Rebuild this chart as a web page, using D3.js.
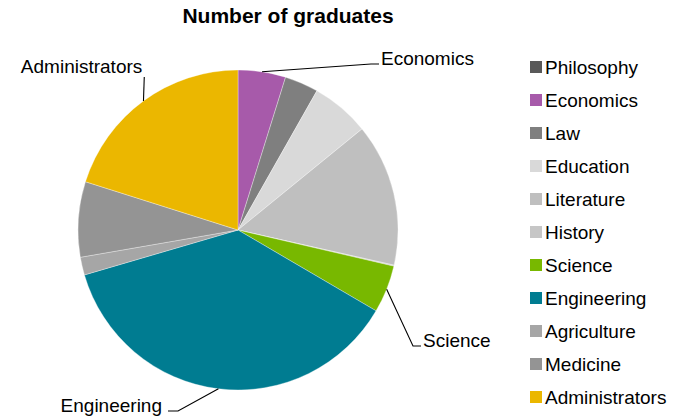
<!DOCTYPE html>
<html>
<head>
<meta charset="utf-8">
<script src="https://cdn.jsdelivr.net/npm/d3@7"></script>
<style>
  html, body { margin: 0; padding: 0; background: #fff; }
  svg { display: block; font-family: "Liberation Sans", Arial, sans-serif; }
</style>
</head>
<body>
<svg id="chart" width="685" height="420"></svg>
<script>
// Graduates per field of study
const categories = ["Philosophy", "Economics", "Law", "Education", "Literature", "History",
                    "Science", "Engineering", "Agriculture", "Medicine", "Administrators"];
const graduates = [0, 48, 34, 59, 144, 1, 48, 370, 18, 76, 201];
const colors = ["#595959", "#a75aaa", "#7f7f7f", "#d9d9d9", "#bfbfbf", "#c6c6c6",
                "#78b800", "#007c91", "#a6a6a6", "#949494", "#ebb700"];
const calloutNames = ["Economics", "Science", "Engineering", "Administrators"];

const svg = d3.select("#chart");
const cx = 238, cy = 230, radius = 160;

// Leader-line layout for the callout labels: elbow point and horizontal tail relative to the pie centre
const calloutLayout = {
  Economics:      { elbow: [133, -166], tail: 8,  anchor: "start" },
  Science:        { elbow: [175, 116],  tail: 8,  anchor: "start" },
  Engineering:    { elbow: [-60, 181],  tail: -10, anchor: "end" },
  Administrators: { elbow: [-94, -153], tail: 0,  anchor: "end" }
};

svg.append("text")
  .attr("x", 288).attr("y", 23)
  .attr("text-anchor", "middle")
  .attr("font-size", 21).attr("font-weight", "bold")
  .attr("fill", "#000")
  .text("Number of graduates");

const data = categories.map((c, i) => ({ name: c, value: graduates[i], color: colors[i] }));
const pie = d3.pie().sort(null).value(d => d.value).startAngle(0).endAngle(2 * Math.PI);
const arcs = pie(data);
const arc = d3.arc().innerRadius(0).outerRadius(radius);

const g = svg.append("g").attr("transform", `translate(${cx},${cy})`);
g.selectAll("path.slice")
  .data(arcs.filter(a => a.data.value > 0))
  .join("path")
  .attr("class", "slice")
  .attr("d", arc)
  .attr("fill", d => d.data.color)
  .attr("stroke", "#ffffff")
  .attr("stroke-opacity", 0.55)
  .attr("stroke-width", 0.6);

// Callout labels with leader lines from the middle of each slice's rim
arcs.filter(a => calloutNames.includes(a.data.name)).forEach(a => {
  const L = calloutLayout[a.data.name];
  const mid = (a.startAngle + a.endAngle) / 2;
  const ex = radius * Math.sin(mid), ey = -radius * Math.cos(mid);
  let pts;
  if (a.data.name === "Administrators") {
    pts = [[ex, ey], [ex + 0.8, L.elbow[1]]];
  } else {
    pts = [[ex, ey], L.elbow, [L.elbow[0] + L.tail, L.elbow[1]]];
  }
  g.append("path")
    .attr("d", d3.line()(pts))
    .attr("fill", "none")
    .attr("stroke", "#000")
    .attr("stroke-width", 1.1);
  const last = pts[pts.length - 1];
  let tx, ty;
  if (a.data.name === "Administrators") {
    tx = last[0] - 2; ty = last[1] - 4;
  } else {
    tx = last[0] + (L.anchor === "start" ? 2 : -6);
    ty = last[1] + 1;
  }
  g.append("text")
    .attr("x", tx).attr("y", ty)
    .attr("text-anchor", L.anchor)
    .attr("font-size", 19)
    .attr("fill", "#000")
    .text(a.data.name);
});

// Legend
const legend = svg.append("g").attr("transform", "translate(530,61)");
const rows = legend.selectAll("g.row")
  .data(data)
  .join("g")
  .attr("class", "row")
  .attr("transform", (d, i) => `translate(0,${i * 33})`);
rows.append("rect")
  .attr("width", 12).attr("height", 12)
  .attr("fill", d => d.color);
rows.append("text")
  .attr("x", 15).attr("y", 13)
  .attr("font-size", 19)
  .attr("fill", "#000")
  .text(d => d.name);
</script>
</body>
</html>
